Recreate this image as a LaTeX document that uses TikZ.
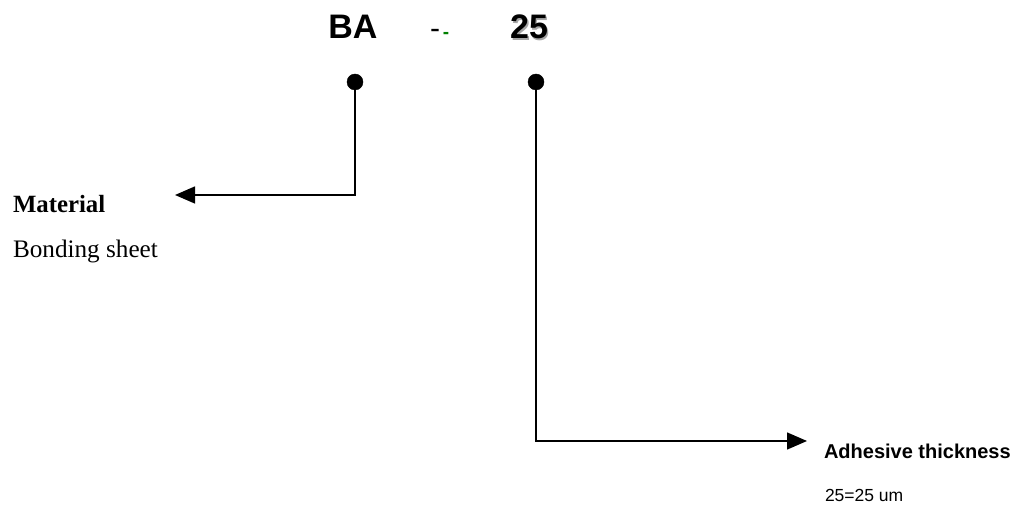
\documentclass[tikz,border=0pt]{standalone}
\usepackage{fontspec}
\setmainfont{Liberation Serif}
\setsansfont{Liberation Sans}
\usetikzlibrary{arrows.meta}
\definecolor{dashgreen}{RGB}{0,128,0}
\tikzset{
  lbl/.style={inner sep=0pt, outer sep=0pt, anchor=base west},
  code/.style={inner sep=0pt, outer sep=0pt, anchor=base, font=\sffamily\bfseries\fontsize{34}{40}\selectfont},
  dot/.style={circle, fill=black, draw=black, inner sep=0pt, minimum size=16pt},
  conn/.style={line width=1.4pt, -{Triangle[length=20pt,width=17pt]}}
}
\begin{document}
\begin{tikzpicture}[x=1pt,y=-1pt]
\useasboundingbox (0,0) rectangle (1018,510);
% code letters
\node[code] (ba) at (353,39) {BA};
\node[code, font=\sffamily\fontsize{30}{36}\selectfont] (hy1) at (435,39) {-};
\node[code, font=\sffamily\bfseries\fontsize{19}{24}\selectfont, text=dashgreen] (hy2) at (446,39) {-};
\node[code, text=black!35] (twshadow) at (530.5,40.5) {25};
\node[code] (tw) at (529,39) {25};
% dots
\node[dot] (d1) at (355,82) {};
\node[dot] (d2) at (536,82) {};
% arrow ends
\coordinate (e1) at (175,195);
\coordinate (e2) at (807,441);
\draw[conn] (d1.center) |- (e1);
\draw[conn] (d2.center) |- (e2);
% labels
\node[lbl, font=\rmfamily\bfseries\fontsize{24.8}{28}\selectfont] (mat) at (13,213) {Material};
\node[lbl, font=\rmfamily\fontsize{25.2}{28}\selectfont] (bond) at (13,258) {Bonding sheet};
\node[lbl, font=\sffamily\bfseries\fontsize{20}{24}\selectfont] (adh) at (824,459) {Adhesive thickness};
\node[lbl, font=\sffamily\fontsize{17.5}{21}\selectfont] (um) at (825,501) {25=25 um};
\end{tikzpicture}
\end{document}
